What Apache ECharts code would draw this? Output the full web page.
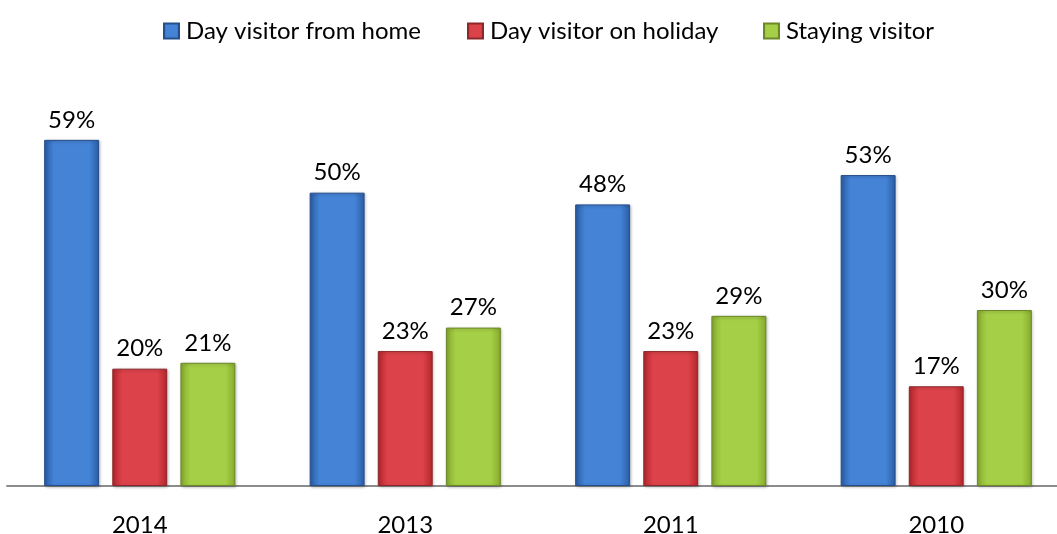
<!DOCTYPE html>
<html>
<head>
<meta charset="utf-8">
<script src="https://cdn.jsdelivr.net/npm/echarts@6/dist/echarts.min.js"></script>
<style>
  html, body { margin: 0; padding: 0; background: #fff; }
  #chart { width: 1057px; height: 534px; }
</style>
</head>
<body>
<div id="chart"></div>
<script>
// values
const years = ['2014', '2013', '2011', '2010']
const seriesNames = ['Day visitor from home', 'Day visitor on holiday', 'Staying visitor']
const fromHome = [59, 50, 48, 53]
const onHoliday = [20, 23, 23, 17]
const staying = [21, 27, 29, 30]

const FONT = 'Lato'

// edge / centre / border colours per series
const palette = [
  { edge: '#2a5da6', mid: '#4483d6', border: '#254e8a' },
  { edge: '#b5262c', mid: '#dc424a', border: '#8c282b' },
  { edge: '#86ab2d', mid: '#a5cf46', border: '#6c8829' }
]

function barFill(p) {
  return new echarts.graphic.LinearGradient(0, 0, 1, 0, [
    { offset: 0, color: p.edge },
    { offset: 0.18, color: p.mid },
    { offset: 0.82, color: p.mid },
    { offset: 1, color: p.edge }
  ])
}

function makeSeries(name, values, p) {
  return {
    name: name,
    type: 'bar',
    data: values,
    barGap: '24%',
    barCategoryGap: '28%',
    itemStyle: {
      color: barFill(p),
      borderColor: p.border,
      borderWidth: 1,
      shadowColor: 'rgba(0,0,0,0.25)',
      shadowBlur: 3,
      shadowOffsetX: 1,
      shadowOffsetY: 1
    },
    label: {
      show: true,
      position: 'top',
      distance: 8,
      formatter: '{c}%',
      color: '#000',
      fontFamily: FONT,
      fontSize: 24
    }
  }
}

function makeLegend(name, left) {
  return {
    data: [name],
    left: left,
    top: 14,
    itemWidth: 15,
    itemHeight: 15,
    itemGap: 0,
    icon: 'rect',
    textStyle: { fontFamily: FONT, fontSize: 24, color: '#000', padding: [0, 0, 0, 2] }
  }
}

const chart = echarts.init(document.getElementById('chart'))
chart.setOption({
  animation: false,
  legend: [
    makeLegend(seriesNames[0], 158),
    makeLegend(seriesNames[1], 462),
    makeLegend(seriesNames[2], 758)
  ],
  grid: { left: 7, right: -12, top: 134, bottom: 48, outerBoundsMode: 'none' },
  xAxis: {
    type: 'category',
    data: years,
    axisLine: { lineStyle: { color: '#8c8c8c', width: 2 } },
    axisTick: { show: false },
    axisLabel: { color: '#000', fontFamily: FONT, fontSize: 24, margin: 27 }
  },
  yAxis: {
    type: 'value',
    min: 0,
    max: 60,
    show: false,
    splitLine: { show: false }
  },
  series: [
    makeSeries(seriesNames[0], fromHome, palette[0]),
    makeSeries(seriesNames[1], onHoliday, palette[1]),
    makeSeries(seriesNames[2], staying, palette[2])
  ]
})
</script>
</body>
</html>
